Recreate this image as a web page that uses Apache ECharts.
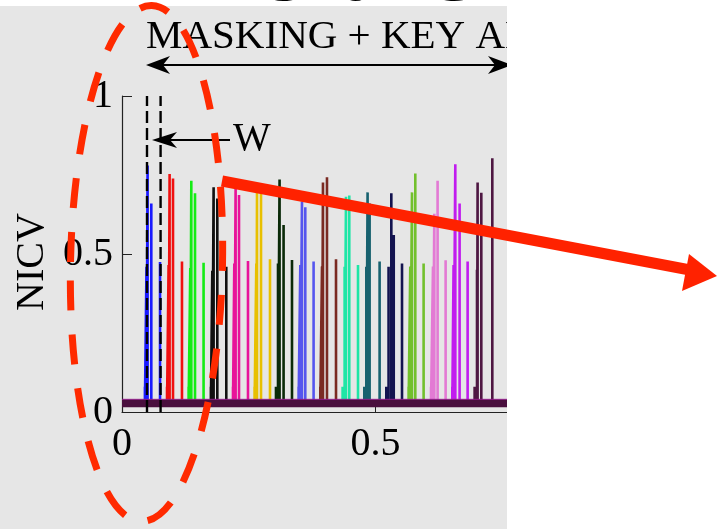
<!DOCTYPE html>
<html>
<head>
<meta charset="utf-8">
<script src="https://cdn.jsdelivr.net/npm/echarts@6/dist/echarts.min.js"></script>
<style>
  html, body { margin: 0; padding: 0; background: #ffffff; }
  #chart { width: 717px; height: 529px; }
</style>
</head>
<body>
<div id="chart"></div>
<script>
// Axis ticks and their labels
const xTicks = [0, 0.5, 1];
const xTickLabels = ['0', '0.5', '1'];
const yTicks = [0, 0.5, 1];
const yTickLabels = ['0', '0.5', '1'];

// One colour per trace group (one group per processed byte)
const traceColors = [
  '#1a1aff', '#f01010', '#14ec14', '#101010', '#e8139a', '#e8c000',
  '#0a2a08', '#5555ee', '#7a2a22', '#1ee6a6', '#17616f', '#13134f',
  '#72c02c', '#e37ad4', '#c11cef', '#4e1742'
];

// NICV peak positions (normalised time) for each group
const peakX = [
  [0.0452, 0.0483, 0.0505, 0.0578, 0.0750],
  [0.0888, 0.0919, 0.0939, 0.1006, 0.1183],
  [0.1314, 0.1347, 0.1367, 0.1440, 0.1609],
  [0.1753, 0.1781, 0.1807, 0.1880, 0.2057],
  [0.2189, 0.2215, 0.2241, 0.2308, 0.2485],
  [0.2615, 0.2649, 0.2663, 0.2742, 0.2919],
  [0.3037, 0.3077, 0.3108, 0.3187, 0.3353],
  [0.3483, 0.3517, 0.3550, 0.3615, 0.3779],
  [0.3911, 0.3945, 0.3964, 0.4043, 0.4221],
  [0.4351, 0.4391, 0.4418, 0.4483, 0.4655],
  [0.4779, 0.4819, 0.4844, 0.4884, 0.5081],
  [0.5213, 0.5258, 0.5312, 0.5360, 0.5523],
  [0.5653, 0.5686, 0.5720, 0.5785, 0.5949],
  [0.6095, 0.6134, 0.6160, 0.6225, 0.6383],
  [0.6515, 0.6540, 0.6574, 0.6659, 0.6817],
  [0.6955, 0.7002, 0.7014, 0.7087, 0.7304]
];

// NICV peak heights matching peakX
const peakH = [
  [0.08, 0.46, 0.78, 0.66, 0.475],
  [0.08, 0.465, 0.753, 0.739, 0.476],
  [0.08, 0.456, 0.732, 0.692, 0.472],
  [0.08, 0.447, 0.711, 0.676, 0.46],
  [0.08, 0.47, 0.715, 0.687, 0.478],
  [0.08, 0.47, 0.703, 0.692, 0.483],
  [0.08, 0.47, 0.736, 0.592, 0.481],
  [0.08, 0.465, 0.666, 0.648, 0.476],
  [0.08, 0.46, 0.726, 0.743, 0.483],
  [0.08, 0.46, 0.681, 0.685, 0.465],
  [0.08, 0.46, 0.695, 0.66, 0.476],
  [0.08, 0.46, 0.692, 0.56, 0.47],
  [0.08, 0.46, 0.695, 0.755, 0.47],
  [0.08, 0.46, 0.627, 0.732, 0.48],
  [0.08, 0.465, 0.784, 0.66, 0.476],
  [0.08, 0.45, 0.726, 0.694, 0.803]
];

// Noise floor shared by all traces
const floorLevel = 0.02;
const noiseBand = [[0, 0.028], [1, 0.028]];
const noiseEdge = [[0, 0.040], [1, 0.040]];

// Window W boundaries
const windowEdges = [0.0493, 0.0761];

const serif = 'Liberation Serif';

const series = [];
traceColors.forEach((color, g) => {
  const pts = [];
  peakX[g].forEach((x, k) => {
    pts.push([x, floorLevel], [x, peakH[g][k]], [x, floorLevel]);
  });
  series.push({
    type: 'line', data: pts, symbol: 'none', silent: true,
    lineStyle: { color: color, width: 2.6 }, z: 2
  });
});

series.push({
  type: 'line', data: noiseBand, symbol: 'none', silent: true,
  lineStyle: { color: '#4a0f3e', width: 8 }, z: 4
});
series.push({
  type: 'line', data: noiseEdge, symbol: 'none', silent: true,
  lineStyle: { color: '#9a1c92', width: 1.2, opacity: 0.7 }, z: 4
});

windowEdges.forEach(x => {
  series.push({
    type: 'line', data: [[x, 0], [x, 1]], symbol: 'none', silent: true,
    lineStyle: { color: '#000000', width: 2.4, type: [12, 5] }, z: 5
  });
});

const option = {
  animation: false,
  backgroundColor: '#ffffff',
  grid: { left: 122, top: 96, width: 507, height: 316, containLabel: false },
  xAxis: {
    type: 'value', min: 0, max: 1, interval: 0.5,
    axisLine: { show: true, lineStyle: { color: '#222', width: 1.2 } },
    axisTick: { show: true, inside: true, length: 5, lineStyle: { color: '#222' } },
    splitLine: { show: false },
    axisLabel: {
      fontFamily: serif, fontSize: 40, color: '#000', margin: 12,
      formatter: v => xTickLabels[xTicks.indexOf(v)]
    }
  },
  yAxis: {
    type: 'value', min: 0, max: 1, interval: 0.5,
    name: 'NICV', nameLocation: 'middle', nameGap: 68,
    nameTextStyle: { fontFamily: serif, fontSize: 40, color: '#000', padding: [0, 16, 0, 0] },
    axisLine: { show: true, lineStyle: { color: '#222', width: 1.2 } },
    axisTick: { show: true, inside: true, length: 10, lineStyle: { color: '#222' } },
    splitLine: { show: false },
    axisLabel: {
      fontFamily: serif, fontSize: 40, color: '#000', margin: 9,
      formatter: v => yTickLabels[yTicks.indexOf(v)]
    }
  },
  graphic: [
    // heading above the panel (only its lower edge lies inside the page)
    { type: 'text', z: -20, x: 200, y: 17,
      style: { text: 'Details', font: 'bold 70px "DejaVu Sans"', fill: '#000', verticalAlign: 'bottom' } },
    // panel background
    { type: 'rect', z: -10, shape: { x: 0, y: 6, width: 507, height: 523 }, style: { fill: '#e6e6e6' } },
    // phase label and its span arrow
    { type: 'text', z: 10, x: 146, y: 37,
      style: { text: 'MASKING + KEY ADDITION', font: '41px "Liberation Serif"', fill: '#000', verticalAlign: 'middle' } },
    { type: 'line', z: 10, shape: { x1: 158, y1: 65, x2: 500, y2: 65 }, style: { stroke: '#000', lineWidth: 2 } },
    { type: 'polygon', z: 10, shape: { points: [[146, 65], [170, 56], [163, 65], [170, 74]] }, style: { fill: '#000' } },
    { type: 'polygon', z: 10, shape: { points: [[512, 65], [488, 56], [495, 65], [488, 74]] }, style: { fill: '#000' } },
    // window label
    { type: 'line', z: 10, shape: { x1: 168, y1: 140, x2: 230, y2: 140 }, style: { stroke: '#000', lineWidth: 2 } },
    { type: 'polygon', z: 10, shape: { points: [[152, 140], [177, 132], [170, 140], [177, 148]] }, style: { fill: '#000' } },
    { type: 'text', z: 10, x: 233, y: 139,
      style: { text: 'W', font: '40px "Liberation Serif"', fill: '#000', verticalAlign: 'middle' } },
    // white margin to the right of the panel
    { type: 'rect', z: 50, shape: { x: 507, y: 0, width: 210, height: 529 }, style: { fill: '#ffffff' } },
    // highlight ellipse and pointer
    { type: 'ellipse', z: 60, originX: 146.5, originY: 263.5, rotation: -0.02,
      shape: { cx: 146.5, cy: 263.5, rx: 76, ry: 258 },
      style: { fill: 'none', stroke: '#ff2a00', lineWidth: 7, lineDash: [30, 24] } },
    { type: 'line', z: 60, shape: { x1: 222, y1: 181, x2: 690, y2: 270 },
      style: { stroke: '#ff2200', lineWidth: 11 } },
    { type: 'polygon', z: 60, shape: { points: [[717, 276], [689, 254], [682, 291]] },
      style: { fill: '#ff2200' } }
  ],
  series: series
};

const chart = echarts.init(document.getElementById('chart'), null, { renderer: 'canvas' });
chart.setOption(option);
</script>
</body>
</html>
